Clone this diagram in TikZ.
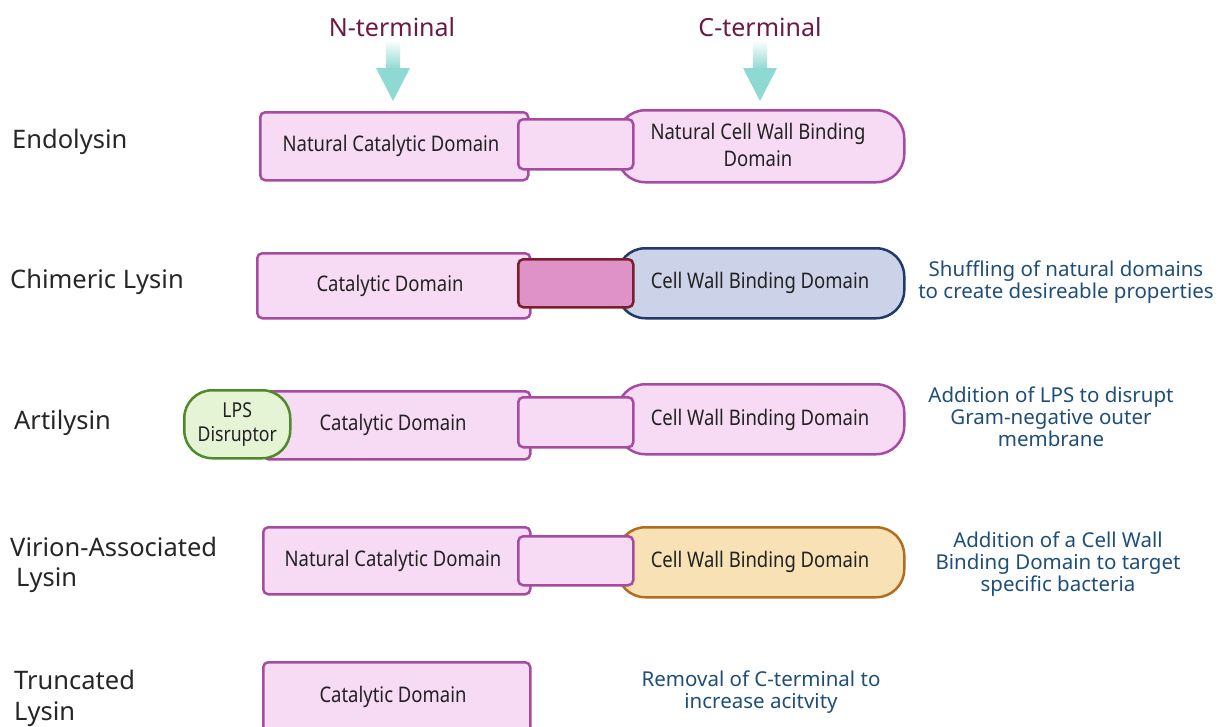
\documentclass[tikz,border=0pt]{standalone}
\usepackage{fontspec}
\setmainfont{Noto Sans}
\newfontfamily\condfont[FakeStretch=0.86]{Noto Sans}
\usetikzlibrary{shapes.geometric}
\definecolor{pinkfill}{HTML}{F7DBF5}
\definecolor{pinkdraw}{HTML}{A64CA0}
\definecolor{linkfill}{HTML}{DE92C8}
\definecolor{linkdraw}{HTML}{7A1F2E}
\definecolor{bluefill}{HTML}{CCD3E8}
\definecolor{bluedraw}{HTML}{1F3A6B}
\definecolor{greenfill}{HTML}{E6F4D6}
\definecolor{greendraw}{HTML}{4E8A2A}
\definecolor{orfill}{HTML}{F8E1B5}
\definecolor{ordraw}{HTML}{B06E1E}
\definecolor{desc}{HTML}{1F4E79}
\definecolor{maroon}{HTML}{6B1A45}
\definecolor{teal}{HTML}{8FD9D3}
\definecolor{boxtext}{HTML}{222222}
\tikzset{
  dom/.style={draw=pinkdraw, fill=pinkfill, line width=2.5pt, rounded corners=5pt,
    inner sep=0pt, anchor=north west, font=\condfont\fontsize{21}{25}\selectfont,
    text=boxtext, align=center},
  cwbd/.style={dom, rounded corners=28pt},
  linker/.style={dom, rounded corners=5pt},
  btext/.style={font=\condfont\fontsize{21.5}{27}\selectfont, text=boxtext, align=center},
  rowlabel/.style={anchor=west, font=\fontsize{25.5}{30}\selectfont, text=black!85, align=left, inner sep=0pt},
  desctext/.style={font=\fontsize{20.5}{22}\selectfont, text=desc, align=center, inner sep=0pt},
  termtext/.style={font=\fontsize{25}{28}\selectfont, text=maroon, inner sep=0pt},
}
\begin{document}
\begin{tikzpicture}[x=1pt,y=-1pt]
\useasboundingbox (0,0) rectangle (1223,726);
% terminal labels and arrows
\node[termtext] (nterm) at (392,27) {N-terminal};
\node[termtext] (cterm) at (760,27) {C-terminal};
\foreach \cx/\nm in {393/narrow,760/carrow}{
  \shade[top color=white, bottom color=teal] (\cx-7,40) rectangle (\cx+7,69);
  \fill[teal] (\cx-17,68) -- (\cx+17,68) -- (\cx,101) -- cycle;
}
% Row 1 Endolysin
\node[rowlabel] (l1) at (12,142) {Endolysin};
\node[dom, minimum width=268pt, minimum height=68pt] (cat1) at (259,111) {};
\node[btext] (cat1t) at (391,146) {Natural Catalytic Domain};
\node[cwbd, minimum width=287pt, minimum height=72pt] (cw1) at (616,109) {};
\node[btext] (cw1t) at (758,145) {Natural Cell Wall Binding\\Domain};
\node[linker, minimum width=115pt, minimum height=50pt] (lk1) at (517,118) {};
% Row 2 Chimeric
\node[rowlabel] (l2) at (10,282) {Chimeric Lysin};
\node[dom, minimum width=273pt, minimum height=65pt] (cat2) at (256,252) {};
\node[btext] (cat2t) at (390,286) {Catalytic Domain};
\node[cwbd, draw=bluedraw, fill=bluefill, minimum width=287pt, minimum height=70pt] (cw2) at (616,247) {};
\node[btext] (cw2t) at (760,283) {Cell Wall Binding Domain};
\node[linker, draw=linkdraw, fill=linkfill, minimum width=115pt, minimum height=48pt] (lk2) at (517,258) {};
\node[desctext] (d2) at (1066,282) {Shuffling of natural domains\\to create desireable properties};
% Row 3 Artilysin
\node[rowlabel] (l3) at (14,423) {Artilysin};
\node[dom, minimum width=267pt, minimum height=68pt] (cat3) at (262,390) {};
\node[btext] (cat3t) at (393,425) {Catalytic Domain};
\node[dom, draw=greendraw, fill=greenfill, rounded corners=28pt, minimum width=106pt, minimum height=68pt,
  font=\condfont\fontsize{20.5}{24}\selectfont] (lps) at (183,389) {LPS\\Disruptor};
\node[cwbd, minimum width=287pt, minimum height=70pt] (cw3) at (616,383) {};
\node[btext] (cw3t) at (760,420) {Cell Wall Binding Domain};
\node[linker, minimum width=115pt, minimum height=50pt] (lk3) at (517,396) {};
\node[desctext] (d3) at (1051,417) {Addition of LPS to disrupt\\Gram-negative outer\\membrane};
% Row 4 Virion-Associated
\node[rowlabel] (l4a) at (10,547) {Virion-Associated};
\node[rowlabel] (l4b) at (16,580) {Lysin};
\node[dom, minimum width=267pt, minimum height=67pt] (cat4) at (262,526) {};
\node[btext] (cat4t) at (393,561) {Natural Catalytic Domain};
\node[cwbd, draw=ordraw, fill=orfill, minimum width=287pt, minimum height=70pt] (cw4) at (616,526) {};
\node[btext] (cw4t) at (760,562) {Cell Wall Binding Domain};
\node[linker, minimum width=115pt, minimum height=49pt] (lk4) at (517,535) {};
\node[desctext] (d4) at (1058,564) {Addition of a Cell Wall\\Binding Domain to target\\specific bacteria};
% Row 5 Truncated
\node[rowlabel] (l5a) at (14,680) {Truncated};
\node[rowlabel] (l5b) at (14,714) {Lysin};
\node[dom, minimum width=267pt, minimum height=75pt] (cat5) at (262,661) {};
\node[btext] (cat5t) at (393,697) {Catalytic Domain};
\node[desctext] (d5) at (761,692) {Removal of C-terminal to\\increase acitvity};
\end{tikzpicture}
\end{document}
